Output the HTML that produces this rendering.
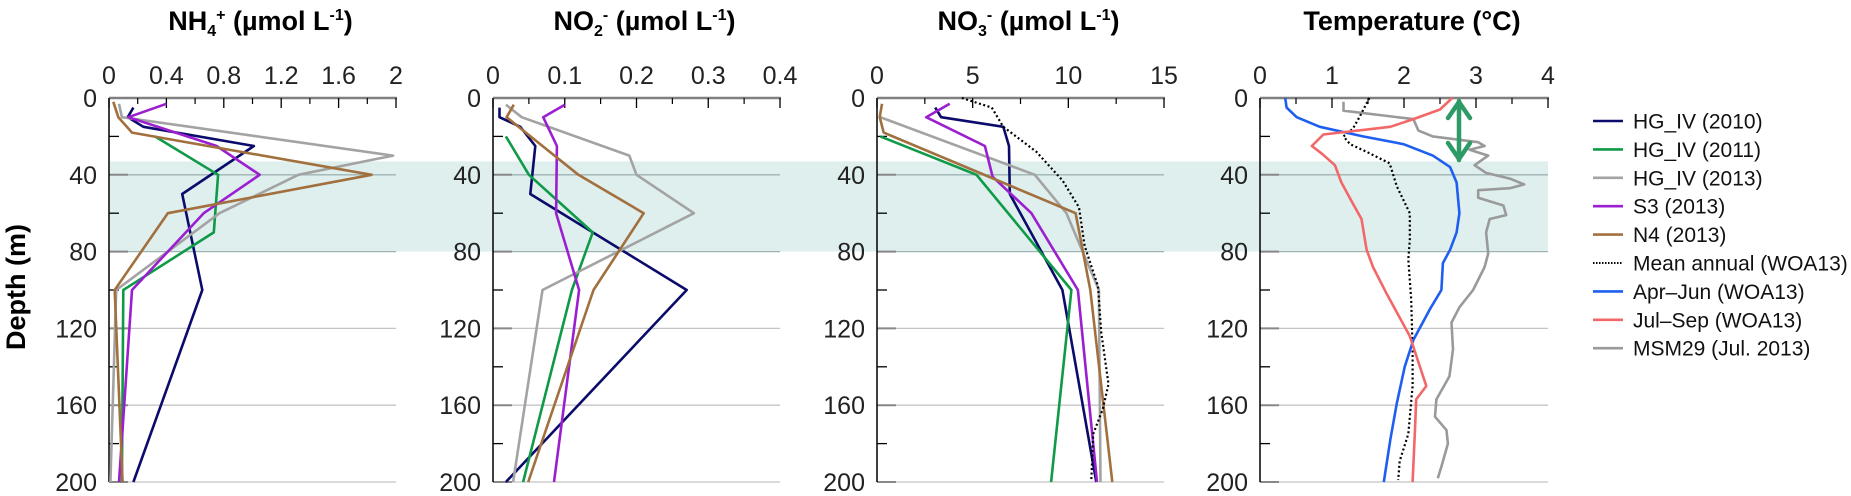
<!DOCTYPE html>
<html><head><meta charset="utf-8"><style>
html,body{margin:0;padding:0;background:#fff;}
svg{display:block;font-family:"Liberation Sans",Arial,sans-serif;}
</style></head><body>
<svg id="chart" width="1851" height="496" viewBox="0 0 1851 496" xmlns="http://www.w3.org/2000/svg"></svg>
<script>
// ---- data ----
const depthTicks = [0,40,80,120,160,200];
const minorDepthTicks = [20,60,100,140,180];
const bandRange = [33,80];

const nh4Ticks = [0,0.4,0.8,1.2,1.6,2];
const no2Ticks = [0,0.1,0.2,0.3,0.4];
const no3Ticks = [0,5,10,15];
const tempTicks = [0,1,2,3,4];

// NH4
const nh4_2010_d=[5,10,15,25,50,100,200], nh4_2010_v=[0.17,0.13,0.24,1.01,0.51,0.65,0.17];
const nh4_2011_d=[20,40,70,100,200], nh4_2011_v=[0.32,0.76,0.73,0.10,0.09];
const nh4_2013_d=[3,10,30,40,60,100,200], nh4_2013_v=[0.07,0.09,1.98,1.32,0.77,0.05,0.01];
const nh4_s3_d=[3,10,25,40,60,100,200], nh4_s3_v=[0.40,0.135,0.75,1.05,0.66,0.16,0.07];
const nh4_n4_d=[2,10,18,40,60,100,200], nh4_n4_v=[0.03,0.065,0.16,1.83,0.41,0.04,0.095];
// NO2
const no2_2010_d=[5,10,15,25,50,100,200], no2_2010_v=[0.009,0.009,0.038,0.059,0.052,0.27,0.018];
const no2_2011_d=[20,40,70,100,200], no2_2011_v=[0.018,0.05,0.139,0.11,0.042];
const no2_2013_d=[3.5,10,30,40,60,100,200], no2_2013_v=[0.018,0.04,0.19,0.20,0.28,0.069,0.028];
const no2_s3_d=[3.5,10,25,60,100,200], no2_s3_v=[0.10,0.07,0.089,0.088,0.12,0.085];
const no2_n4_d=[3.5,10,40,60,100,200], no2_n4_v=[0.029,0.019,0.119,0.21,0.14,0.049];
// NO3
const no3_2010_d=[5,10,15,25,50,100,200], no3_2010_v=[3.04,3.35,6.6,6.9,6.94,9.69,11.46];
const no3_2011_d=[20,40,100,200], no3_2011_v=[0.17,5.2,10.16,9.1];
const no3_2013_d=[10,40,60,100,200], no3_2013_v=[0.17,8.25,9.9,11.6,11.68];
const no3_s3_d=[3,10,25,41,60,100,200], no3_s3_v=[3.8,2.57,5.64,6.04,8.07,10.5,11.5];
const no3_n4_d=[3,10,18,60,100,200], no3_n4_v=[0.26,0.14,0.35,10.38,11.15,12.3];
const no3_mean_d=[0,5,15,28,43,57,77,98,122,149,162,175,199], no3_mean_v=[4.43,6.0,6.6,8.33,9.7,10.56,10.85,11.55,11.72,12.1,11.8,11.3,11.2];
// Temperature
const t_apr_d=[0,5,10,15,20,24,30,36,44,60,70,79,86,100,110,126,140,159,178,200];
const t_apr_v=[0.35,0.37,0.51,0.83,1.43,1.99,2.4,2.64,2.73,2.77,2.73,2.64,2.54,2.52,2.36,2.13,2.01,1.9,1.81,1.72];
const t_jul_d=[0,6,11,15,19,25,29,35,44,55,63,79,88,102,124,150,157,175,200];
const t_jul_v=[2.67,2.5,2.13,1.81,0.88,0.72,0.86,1.04,1.13,1.29,1.41,1.48,1.57,1.76,2.08,2.31,2.17,2.15,2.12];
const t_mean_d=[0,10,16,20,24,28,34,46,60,74,84,105,131,150,175,189,199];
const t_mean_v=[1.52,1.38,1.29,1.16,1.25,1.48,1.8,1.9,2.08,2.08,2.06,2.1,2.12,2.12,2.06,1.94,1.92];
const t_msm_d=[2,6.6,11,17,20,23,25,27,30,35,39,42,45,47,48,52,56,61,63,70,81,88,100,109,117,131,145,157,166,173,180,192,198];
const t_msm_v=[1.16,1.16,2.13,2.2,2.4,3.03,3.12,2.91,3.17,2.98,3.14,3.47,3.67,3.47,3.03,3.03,3.38,3.42,3.19,3.14,3.17,3.12,2.96,2.77,2.66,2.68,2.63,2.45,2.43,2.59,2.61,2.52,2.47];

const legendLabels=["HG_IV (2010)","HG_IV (2011)","HG_IV (2013)","S3 (2013)","N4 (2013)","Mean annual (WOA13)","Apr\u2013Jun (WOA13)","Jul\u2013Sep (WOA13)","MSM29 (Jul. 2013)"];

// ---- drawing ----
const NS="http://www.w3.org/2000/svg";
const svg=document.getElementById('chart');
function mk(tag,attrs,parent){const e=document.createElementNS(NS,tag);for(const k in attrs)e.setAttribute(k,attrs[k]);(parent||svg).appendChild(e);return e;}
const Y0=98,Y1=482;
const yS=d=>Y0+(d/200)*(Y1-Y0);
const C={navy:"#0b0b6b",green:"#0f9a48",gray:"#a3a3a3",purple:"#9b1fd0",brown:"#a2703e",blue:"#1f5ff0",red:"#f26868",msm:"#9a9a9a",black:"#000"};

const sub=(a,b)=>a+'<tspan dy="6" font-size="16">'+b[0]+'</tspan><tspan dy="-16" font-size="16">'+b[1]+'</tspan><tspan dy="10"> (µmol L</tspan><tspan dy="-10" font-size="16">-1</tspan><tspan dy="10">)</tspan>';
const panels=[
 {x0:109,x1:396,max:2,ticks:nh4Ticks,labels:["0","0.4","0.8","1.2","1.6","2"],minor:[0.2,0.6,1.0,1.4,1.8],name:"nh4",title:sub('NH',['4','+']),
  series:[[nh4_2010_d,nh4_2010_v,C.navy],[nh4_2011_d,nh4_2011_v,C.green],[nh4_2013_d,nh4_2013_v,C.gray],[nh4_s3_d,nh4_s3_v,C.purple],[nh4_n4_d,nh4_n4_v,C.brown]]},
 {x0:493,x1:780,max:0.4,ticks:no2Ticks,labels:["0","0.1","0.2","0.3","0.4"],minor:[0.05,0.15,0.25,0.35],name:"no2",title:sub('NO',['2','-']),
  series:[[no2_2010_d,no2_2010_v,C.navy],[no2_2011_d,no2_2011_v,C.green],[no2_2013_d,no2_2013_v,C.gray],[no2_s3_d,no2_s3_v,C.purple],[no2_n4_d,no2_n4_v,C.brown]]},
 {x0:877,x1:1164,max:15,ticks:no3Ticks,labels:["0","5","10","15"],minor:[2.5,7.5,12.5],name:"no3",title:sub('NO',['3','-']),
  series:[[no3_2010_d,no3_2010_v,C.navy],[no3_2011_d,no3_2011_v,C.green],[no3_2013_d,no3_2013_v,C.gray],[no3_s3_d,no3_s3_v,C.purple],[no3_n4_d,no3_n4_v,C.brown],[no3_mean_d,no3_mean_v,C.black,true]]},
 {x0:1260,x1:1548,max:4,ticks:tempTicks,labels:["0","1","2","3","4"],minor:[0.5,1.5,2.5,3.5],name:"temperature",title:'Temperature (°C)',
  series:[[t_msm_d,t_msm_v,C.msm],[t_mean_d,t_mean_v,C.black,true],[t_apr_d,t_apr_v,C.blue],[t_jul_d,t_jul_v,C.red]]}
];

// band
const band=mk('rect',{x:110,y:yS(bandRange[0]),width:1548-110,height:yS(bandRange[1])-yS(bandRange[0]),fill:"#dfefee"});



panels.forEach(p=>{
  const g=mk('g',{});
  
  
  const xS=v=>p.x0+(v/p.max)*(p.x1-p.x0);
  depthTicks.slice(1).forEach(d=>{
    const inBand=d>=bandRange[0]&&d<=bandRange[1];
    const l=mk('line',{x1:p.x0,x2:p.x1,y1:yS(d),y2:yS(d),stroke:inBand?"#9fb3b3":"#c4c4c4","stroke-width":1.3},g);
    
    
    const t=mk('line',{x1:p.x0,x2:p.x0+19,y1:yS(d),y2:yS(d),stroke:"#888","stroke-width":2},g);
    
    
  });
  minorDepthTicks.forEach(d=>{
    const t=mk('line',{x1:p.x0,x2:p.x0+10,y1:yS(d),y2:yS(d),stroke:"#000","stroke-width":1.3},g);
    
    
  });
  depthTicks.forEach(d=>{
    const t=mk('text',{x:p.x0-12,y:yS(d)+9,"text-anchor":"end","font-size":25,fill:"#222"},g);
    t.textContent=d;
    
    
  });
  const la=mk('line',{x1:p.x0,x2:p.x0,y1:Y0,y2:Y1,stroke:"#000","stroke-width":1.5},g);
  
  
  const ta=mk('line',{x1:p.x0,x2:p.x1+1,y1:Y0,y2:Y0,stroke:"#808080","stroke-width":2.5},g);
  
  
  p.ticks.forEach((v,i)=>{
    const t=mk('line',{x1:xS(v),x2:xS(v),y1:Y0,y2:Y0+10,stroke:"#000","stroke-width":1.3},g);
    
    
    const lb=mk('text',{x:xS(v),y:84,"text-anchor":"middle","font-size":25,fill:"#222"},g);
    lb.textContent=p.labels[i];
    
    
  });
  p.minor.forEach(v=>{
    const t=mk('line',{x1:xS(v),x2:xS(v),y1:Y0,y2:Y0+6,stroke:"#000","stroke-width":1.2},g);
    
    
  });
  const tt=mk('text',{x:(p.x0+p.x1)/2+8,y:30,"text-anchor":"middle","font-size":27,"font-weight":"bold",fill:"#000"},g);
  tt.innerHTML=p.title;
  
  
  p.series.forEach(s=>{
    const [ds,vs,col,dot]=s;
    const pts=ds.map((d,i)=>xS(vs[i]).toFixed(1)+","+yS(d).toFixed(1)).join(" ");
    const pl=mk('polyline',{points:pts,fill:"none",stroke:col,"stroke-width":dot?2.2:2.6,"stroke-linejoin":"round"},g);
    if(dot)pl.setAttribute('stroke-dasharray','2 2.5');
    
    
  });
});

const ag=mk('g',{stroke:"#2e9a66","stroke-width":4.5,fill:"none","stroke-linecap":"round","stroke-linejoin":"round"});


mk('line',{x1:1459,y1:101,x2:1459,y2:160},ag);
mk('polyline',{points:"1448,118 1459,102 1470,118"},ag);
mk('polyline',{points:"1448,143 1459,159 1470,143"},ag);

const yt=mk('text',{x:0,y:0,transform:"translate(25,287) rotate(-90)","text-anchor":"middle","font-size":27,"font-weight":"bold",fill:"#000"});
yt.textContent="Depth (m)";



const legendColors=[C.navy,C.green,C.gray,C.purple,C.brown,C.black,C.blue,C.red,C.msm];
const lg=mk('g',{});


legendLabels.forEach((lab,i)=>{
  const y=121+i*28.4;
  const e=mk('g',{},lg);
  
  
  const ln=mk('line',{x1:1593,x2:1623,y1:y,y2:y,stroke:legendColors[i],"stroke-width":i===5?2:2.6},e);
  if(i===5)ln.setAttribute('stroke-dasharray','1.5 1.5');
  const t=mk('text',{x:1633,y:y+7.5,"font-size":21,fill:"#111"},e);
  t.textContent=lab;
});
</script>
</body></html>
